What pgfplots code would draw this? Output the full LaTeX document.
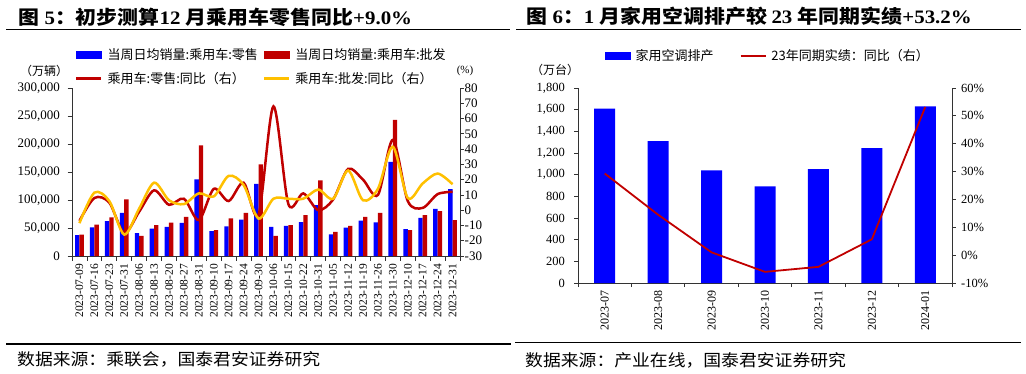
\documentclass[border=0pt]{standalone}
\usepackage{pgfplots}
\pgfplotsset{compat=1.18}
\usepackage{fontspec}
\setmainfont{Liberation Serif}
\newfontfamily\cjk{Noto Sans CJK SC}
\definecolor{barblue}{RGB}{0,0,255}
\definecolor{barred}{RGB}{192,0,0}
\definecolor{lnred}{RGB}{192,0,0}
\definecolor{lnyellow}{RGB}{255,192,0}
\newcommand{\fs}[1]{\fontsize{#1}{#1}\selectfont}
\pgfplotsset{
  mybase/.style={scale only axis, tick align=outside,
    axis line style={draw=black!80, line width=0.8pt},
    every tick/.style={draw=black!80, line width=0.8pt},
    /pgf/number format/assume math mode=true,
    /pgf/number format/fixed,
    /pgf/number format/1000 sep={,},
    scaled y ticks=false, clip=false},
}
\begin{document}
\begin{tikzpicture}[x=1pt,y=1pt]
\useasboundingbox (0pt,0pt) rectangle (1026pt,373pt);
% titles
\node[anchor=west, inner sep=0pt, xscale=1.1] at (18pt,356pt) {\fs{19}\bfseries{\cjk 图}\hspace{5pt}5{\cjk ：初步测算}12\hspace{5pt}{\cjk 月乘用车零售同比}+9.0\%};
\node[anchor=west, inner sep=0pt, xscale=1.1] at (526pt,357pt) {\fs{19}\bfseries{\cjk 图}\hspace{5pt}6{\cjk ：}1\hspace{5pt}{\cjk 月家用空调排产较}\hspace{4pt}23\hspace{5pt}{\cjk 年同期实绩}+53.2\%};
\draw[line width=1.2pt] (6pt,343.7pt) -- (510pt,343.7pt);
\draw[line width=1.2pt] (516pt,343.7pt) -- (1021pt,343.7pt);
\draw[line width=1.2pt] (6pt,29pt) -- (511pt,29pt);
\draw[line width=1.2pt] (515pt,30.7pt) -- (1021pt,30.7pt);
\node[anchor=west, inner sep=0pt, xscale=1.08] at (17pt,14pt) {\fs{16.5}\cjk 数据来源：乘联会，国泰君安证券研究};
\node[anchor=west, inner sep=0pt, xscale=1.08] at (525pt,13pt) {\fs{16.5}\cjk 数据来源：产业在线，国泰君安证券研究};
\node[inner sep=0pt] at (44pt,302pt) {\fs{12}\cjk （万辆）};
\node[inner sep=0pt] at (465pt,302pt) {\fs{11}(\%)};
\node[inner sep=0pt] at (555pt,303pt) {\fs{12}\cjk （万台）};

% ---------------- left chart ----------------
\begin{axis}[mybase, at={(72pt,117pt)}, anchor=south west, width=388pt, height=168pt,
  xmin=-0.5, xmax=25.5, ymin=0, ymax=300000,
  axis y line*=left, axis x line*=bottom,
  ytick={0,50000,...,300000},
  yticklabel style={font=\fs{13}, inner sep=0pt, xshift=-7.5pt},
  xtick={0,...,25},
  xticklabels={2023-07-09,2023-07-16,2023-07-23,2023-07-31,2023-08-06,2023-08-13,2023-08-20,2023-08-27,2023-08-31,2023-09-10,2023-09-17,2023-09-24,2023-09-30,2023-10-06,2023-10-15,2023-10-22,2023-10-31,2023-11-05,2023-11-12,2023-11-19,2023-11-26,2023-11-30,2023-12-10,2023-12-17,2023-12-24,2023-12-31},
  major x tick style={draw=none},
  minor xtick={-0.5,0.5,...,25.5},
  major tick length=4.3pt, minor tick length=4.5pt,
  xticklabel style={font=\fs{11.5}, inner sep=0pt, yshift=-3.5pt, rotate=90, anchor=east},
  ybar, bar width=4.4pt]
\addplot[fill=barblue, draw=none, bar shift=-2.2pt] coordinates {
(0,37500) (1,51000) (2,62500) (3,77000) (4,41000) (5,49000) (6,52000) (7,59000) (8,137000) (9,44600) (10,53000) (11,65000) (12,128600) (13,52000) (14,53600) (15,60700) (16,91000) (17,38700) (18,50600) (19,63000) (20,60000) (21,168000) (22,48000) (23,68000) (24,84000) (25,119600)};
\addplot[fill=barred, draw=none, bar shift=2.2pt] coordinates {
(0,38000) (1,56000) (2,69000) (3,101000) (4,36000) (5,55000) (6,59500) (7,70000) (8,197600) (9,46000) (10,67000) (11,77000) (12,163700) (13,36000) (14,55000) (15,73000) (16,135000) (17,43000) (18,53600) (19,70000) (20,77000) (21,243000) (22,46000) (23,73000) (24,80000) (25,64000)};
\end{axis}
\begin{axis}[mybase, at={(72pt,117pt)}, anchor=south west, width=388pt, height=168pt,
  xmin=-0.5, xmax=25.5, ymin=-30, ymax=80,
  axis y line*=right, axis x line=none,
  ytick={-30,-20,...,80}, major tick length=3.5pt,
  yticklabel style={font=\fs{13}, inner sep=0pt, xshift=1pt},
  legend columns=2, legend cell align=left,
  legend style={at={(0.0077,1.235)}, anchor=north west, draw=none, fill=none, inner sep=0pt,
    font=\fs{13}\cjk, column sep=5pt, row sep=11pt, nodes={inner sep=0pt},
    /tikz/every even column/.append style={column sep=5pt}}]
\addlegendimage{legend image code/.code={\fill[barblue] (0pt,-3.5pt) rectangle (25pt,3.5pt);}}
\addlegendentry{当周日均销量:乘用车:零售}
\addlegendimage{legend image code/.code={\fill[barred] (0pt,-3.5pt) rectangle (25pt,3.5pt);}}
\addlegendentry{当周日均销量:乘用车:批发}
\addplot[lnred, line width=2.5pt, smooth, tension=0.5,
  legend image code/.code={\draw[lnred, line width=2.5pt] (0pt,0pt) -- (25pt,0pt);}] coordinates {
(0,-7) (1,8) (2,5) (3,-15) (4,-1) (5,13) (6,3.5) (7,7.5) (8,-6.5) (9,14) (10,6) (11,18) (12,-3) (13,68) (14,4) (15,11) (16,0) (17,7) (18,27) (19,20) (20,10) (21,46) (22,6) (23,1.5) (24,10.5) (25,12)};
\addlegendentry{乘用车:零售:同比（右）}
\addplot[lnyellow, line width=2.5pt, smooth, tension=0.5,
  legend image code/.code={\draw[lnyellow, line width=2.5pt] (0pt,0pt) -- (25pt,0pt);}] coordinates {
(0,-8.5) (1,11.5) (2,6) (3,-16) (4,1) (5,18) (6,6.5) (7,4) (8,11) (9,9) (10,22.5) (11,16.5) (12,-5.5) (13,7.5) (14,7.5) (15,7.5) (16,13.5) (17,7.5) (18,26) (19,6.5) (20,14) (21,41.5) (22,8) (23,17.5) (24,24) (25,17)};
\addlegendentry{乘用车:批发:同比（右）}
\end{axis}

% ---------------- right chart ----------------
\begin{axis}[mybase, at={(578pt,90pt)}, anchor=south west, width=374pt, height=195pt,
  xmin=-0.5, xmax=6.5, ymin=0, ymax=1800,
  axis y line*=left, axis x line*=bottom,
  ytick={0,200,...,1800},
  yticklabel style={font=\fs{12.5}, inner sep=0pt, xshift=-9pt},
  xtick={0,...,6},
  xticklabels={2023-07,2023-08,2023-09,2023-10,2023-11,2023-12,2024-01},
  major x tick style={draw=none},
  minor xtick={-0.5,0.5,...,6.5},
  major tick length=4pt, minor tick length=4pt,
  xticklabel style={font=\fs{12}, inner sep=0pt, yshift=-3.7pt, rotate=90, anchor=east},
  ybar, bar width=21pt]
\addplot[fill=barblue, draw=none, bar shift=0pt] coordinates {
(0,1609) (1,1310) (2,1039) (3,891) (4,1051) (5,1245) (6,1631)};
\end{axis}
\begin{axis}[mybase, at={(578pt,90pt)}, anchor=south west, width=374pt, height=195pt,
  xmin=-0.5, xmax=6.5, ymin=-10, ymax=60,
  axis y line*=right, axis x line=none,
  ytick={-10,0,...,60}, major tick length=4pt,
  yticklabel={\pgfmathprintnumber{\tick}\%},
  yticklabel style={font=\fs{12.5}, inner sep=0pt, xshift=5pt},
  legend columns=2, legend cell align=left,
  legend style={at={(0.0722,1.197)}, anchor=north west, draw=none, fill=none, inner sep=0pt,
    font=\fs{13}\cjk, column sep=5pt, nodes={inner sep=0pt},
    /tikz/every even column/.append style={column sep=26pt}}]
\addlegendimage{legend image code/.code={\fill[barblue] (0pt,-3.5pt) rectangle (25pt,3.5pt);}}
\addlegendentry{家用空调排产}
\addplot[lnred, line width=1.8pt,
  legend image code/.code={\draw[lnred, line width=1.8pt] (0pt,0pt) -- (25pt,0pt);}] coordinates {
(0,29.3) (1,14.5) (2,1) (3,-6) (4,-4.2) (5,5.7) (6,53.2)};
\addlegendentry{23年同期实绩：同比（右）}
\end{axis}
\end{tikzpicture}
\end{document}
